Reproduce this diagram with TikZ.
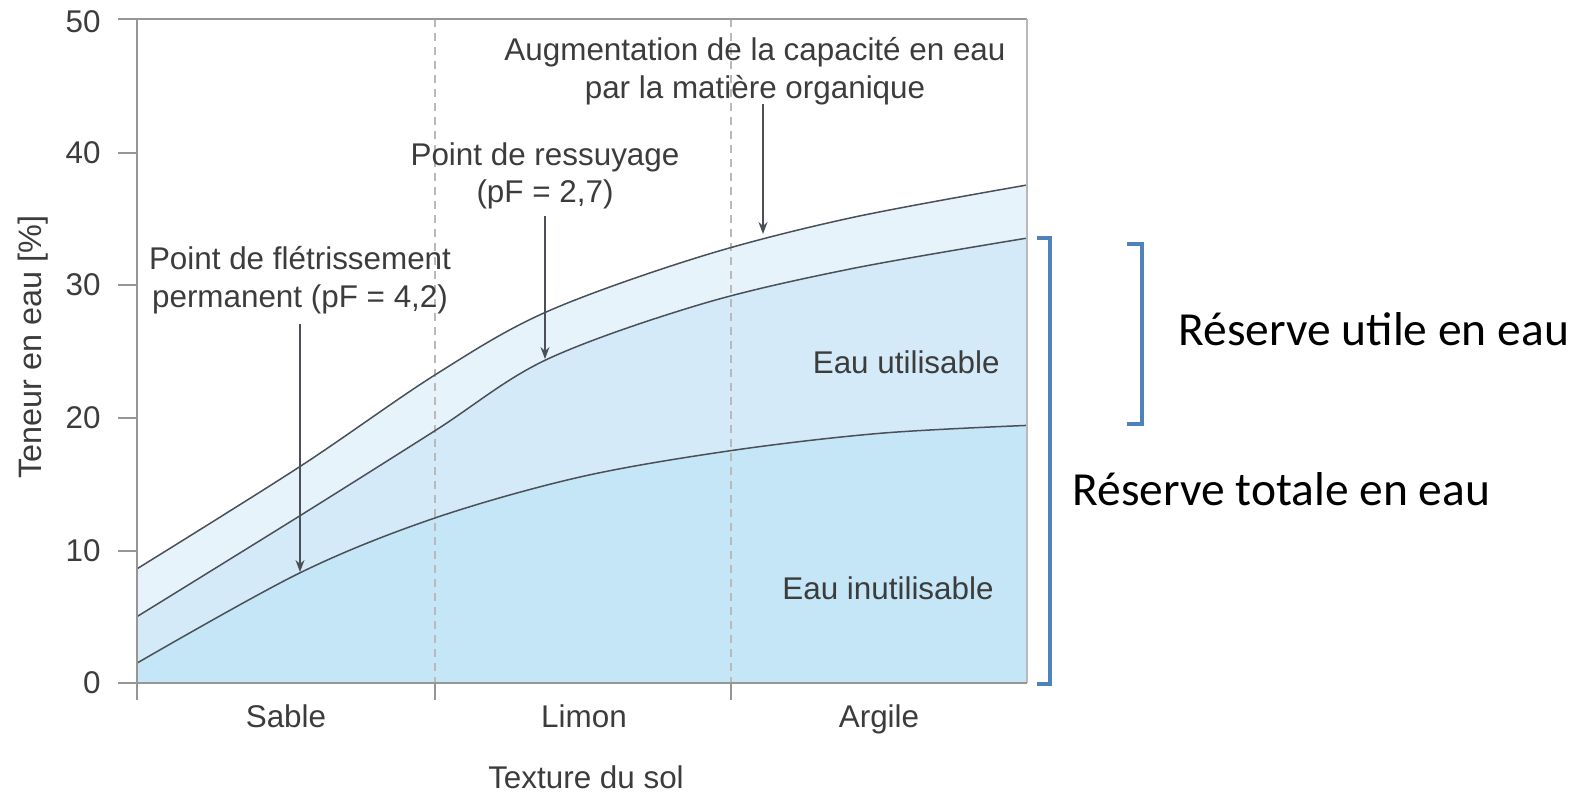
\documentclass[tikz,border=0pt]{standalone}
\usepackage{fontspec}
\setmainfont{Liberation Sans}
\newfontfamily\calibrifont{Carlito}
\usetikzlibrary{arrows.meta}
\definecolor{bandtop}{RGB}{231,243,251}
\definecolor{bandmid}{RGB}{212,234,248}
\definecolor{bandlow}{RGB}{196,230,246}
\definecolor{curvecol}{RGB}{75,80,88}
\definecolor{axiscol}{RGB}{150,150,150}
\definecolor{dashcol}{RGB}{185,185,185}
\definecolor{txt}{RGB}{60,60,60}
\definecolor{brkblue}{RGB}{79,129,189}
\begin{document}
\begin{tikzpicture}[x=0.5pt,y=-0.5pt,
  lbl/.style={font=\fontsize{15.7}{18.7}\selectfont, text=txt, inner sep=0pt},
  bigtxt/.style={font=\calibrifont\fontsize{23.75}{28}\selectfont, text=black, inner sep=0pt, anchor=base west},
  curveline/.style={draw=curvecol, line width=0.75pt},
  axisline/.style={draw=axiscol, line width=0.75pt},
  gridline/.style={draw=dashcol, line width=0.6pt, dash pattern=on 4pt off 3pt},
  arr/.style={draw=curvecol, line width=0.6pt, -{Stealth[length=6pt,width=4.5pt]}},
  brk/.style={draw=brkblue, line width=2pt, line join=miter}]
\useasboundingbox (0,0) rectangle (1587,794);

% bands
\fill[bandtop] (137,683) -- plot[smooth,tension=0.55] coordinates {(137,568.8) (300,466.5) (435,374.9) (545,312.5) (700,256.7) (850,218) (1027,185)} -- (1027,683) -- cycle;
\fill[bandmid] (137,683) -- plot[smooth,tension=0.55] coordinates {(137,616.6) (300,515.7) (435,430.7) (545,360.3) (700,304.5) (850,269) (1027,238.1)} -- (1027,683) -- cycle;
\fill[bandlow] (137,683) -- plot[smooth,tension=0.55] coordinates {(137,663.1) (300,572.8) (434,518.3) (580,477) (731,450.6) (880,433.3) (1027,425.4)} -- (1027,683) -- cycle;

% dashed separators
\draw[gridline] (435,19) -- (435,683);
\draw[gridline] (731,19) -- (731,683);

% curves
\draw[curveline] plot[smooth,tension=0.55] coordinates {(137,568.8) (300,466.5) (435,374.9) (545,312.5) (700,256.7) (850,218) (1027,185)};
\draw[curveline] plot[smooth,tension=0.55] coordinates {(137,616.6) (300,515.7) (435,430.7) (545,360.3) (700,304.5) (850,269) (1027,238.1)};
\draw[curveline] plot[smooth,tension=0.55] coordinates {(137,663.1) (300,572.8) (434,518.3) (580,477) (731,450.6) (880,433.3) (1027,425.4)};

% frame and axes
\draw[axisline] (118,19) -- (1027,19);
\draw[draw=dashcol, line width=0.75pt] (1027,19) -- (1027,683);
\draw[axisline] (137,19) -- (137,700);
\draw[axisline] (118,683) -- (1027,683);
\foreach \yy in {153,285,418,551} \draw[axisline] (118,\yy) -- (137,\yy);
\draw[axisline] (435,683) -- (435,700);
\draw[axisline] (731,683) -- (731,700);

% tick labels
\node[lbl, anchor=east] (t50) at (101,22) {50};
\node[lbl, anchor=east] (t40) at (101,153) {40};
\node[lbl, anchor=east] (t30) at (101,285) {30};
\node[lbl, anchor=east] (t20) at (101,418) {20};
\node[lbl, anchor=east] (t10) at (101,551) {10};
\node[lbl, anchor=east] (t0) at (101,683) {0};

\node[lbl, anchor=base] (sable) at (286,727) {Sable};
\node[lbl, anchor=base] (limon) at (584,727) {Limon};
\node[lbl, anchor=base] (argile) at (879,727) {Argile};
\node[lbl] (xlab) at (586,777) {Texture du sol};
\node[lbl, rotate=90, font=\fontsize{16.2}{19}\selectfont] (ylab) at (33,347) {Teneur en eau [\%]};

% annotations
\node[lbl, align=center] (pfp) at (300,280) {Point de flétrissement\\permanent (pF = 4,2)};
\node[lbl, align=center] (pr) at (545,176) {Point de ressuyage\\(pF = 2,7)};
\node[lbl, align=center] (aug) at (755,71) {Augmentation de la capacité en eau\\par la matière organique};
\coordinate (pfptip) at (300,572);
\coordinate (prtip) at (545,359);
\coordinate (augtip) at (763,234);
\draw[arr] (300,324) -- (pfptip);
\draw[arr] (545,216) -- (prtip);
\draw[arr] (763,104) -- (augtip);

\node[lbl, anchor=base east] (eu) at (1000,373) {Eau utilisable};
\node[lbl, anchor=base east] (ei) at (994,599) {Eau inutilisable};

% brackets
\draw[brk] (1037,238) -- (1050,238) -- (1050,684) -- (1037,684);
\draw[brk] (1127,244) -- (1142,244) -- (1142,424) -- (1127,424);
\node[bigtxt] (ru) at (1178,345) {Réserve utile en eau};
\node[bigtxt] (rt) at (1072,505) {Réserve totale en eau};
\end{tikzpicture}
\end{document}
